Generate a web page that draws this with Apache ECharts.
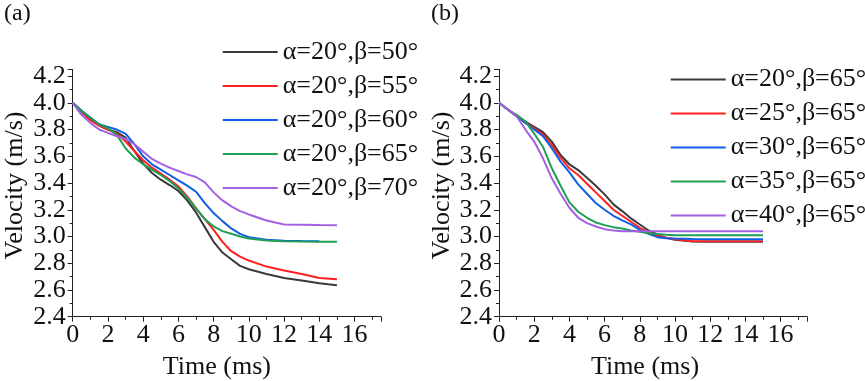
<!DOCTYPE html>
<html>
<head>
<meta charset="utf-8">
<script src="https://cdn.jsdelivr.net/npm/echarts@6/dist/echarts.min.js"></script>
<style>
  html, body { margin: 0; padding: 0; background: #fff; }
  #main { width: 865px; height: 381px; }
</style>
</head>
<body>
<div id="main"></div>
<script>
// sample times shared by all curves (ms)
var times = [0, 0.5, 1, 1.5, 2, 2.5, 3, 3.5, 4, 4.5, 5, 5.5, 6, 6.5, 7, 7.5, 8, 8.5, 9, 9.5, 10, 11, 12, 13, 14, 15];

// panel (a): alpha = 20, beta varies
var namesA = ['α=20°,β=50°', 'α=20°,β=55°', 'α=20°,β=60°', 'α=20°,β=65°', 'α=20°,β=70°'];
var a_b50 = [4.0, 3.94, 3.88, 3.83, 3.80, 3.78, 3.74, 3.64, 3.545, 3.475, 3.425, 3.385, 3.34, 3.27, 3.18, 3.07, 2.96, 2.88, 2.83, 2.78, 2.755, 2.72, 2.69, 2.67, 2.65, 2.635];
var a_b55 = [4.0, 3.93, 3.87, 3.83, 3.80, 3.77, 3.71, 3.64, 3.57, 3.515, 3.47, 3.425, 3.375, 3.30, 3.21, 3.13, 3.05, 2.96, 2.89, 2.85, 2.82, 2.775, 2.745, 2.72, 2.69, 2.68];
var a_b60 = [4.0, 3.94, 3.89, 3.84, 3.82, 3.80, 3.77, 3.69, 3.60, 3.54, 3.50, 3.46, 3.42, 3.38, 3.335, 3.25, 3.175, 3.115, 3.06, 3.02, 2.995, 2.975, 2.968, 2.966, 2.965, null];
var a_b65 = [4.0, 3.94, 3.89, 3.84, 3.81, 3.76, 3.66, 3.59, 3.54, 3.50, 3.46, 3.415, 3.36, 3.29, 3.21, 3.13, 3.075, 3.04, 3.02, 3.00, 2.985, 2.97, 2.965, 2.962, 2.96, 2.96];
var a_b70 = [4.0, 3.91, 3.85, 3.80, 3.775, 3.75, 3.73, 3.69, 3.635, 3.58, 3.545, 3.515, 3.49, 3.465, 3.445, 3.405, 3.33, 3.27, 3.225, 3.19, 3.165, 3.12, 3.09, 3.088, 3.086, 3.085];

// panel (b): beta = 65, alpha varies
var namesB = ['α=20°,β=65°', 'α=25°,β=65°', 'α=30°,β=65°', 'α=35°,β=65°', 'α=40°,β=65°'];
var b_a20 = [4.0, 3.95, 3.90, 3.86, 3.82, 3.78, 3.71, 3.61, 3.54, 3.497, 3.44, 3.38, 3.315, 3.24, 3.19, 3.135, 3.09, 3.045, 3.015, 2.99, 2.975, 2.962, 2.96, 2.96, 2.96, 2.96];
var b_a25 = [4.0, 3.95, 3.90, 3.85, 3.81, 3.765, 3.684, 3.59, 3.51, 3.46, 3.395, 3.33, 3.265, 3.20, 3.155, 3.11, 3.065, 3.03, 3.005, 2.99, 2.98, 2.965, 2.965, 2.965, 2.965, 2.965];
var b_a30 = [4.0, 3.95, 3.90, 3.85, 3.80, 3.75, 3.66, 3.56, 3.48, 3.39, 3.32, 3.25, 3.20, 3.155, 3.12, 3.09, 3.05, 3.02, 2.995, 2.987, 2.985, 2.982, 2.98, 2.98, 2.98, 2.98];
var b_a35 = [4.0, 3.95, 3.91, 3.86, 3.77, 3.67, 3.51, 3.38, 3.255, 3.185, 3.14, 3.105, 3.085, 3.07, 3.06, 3.045, 3.035, 3.025, 3.018, 3.013, 3.01, 3.01, 3.01, 3.01, 3.01, 3.01];
var b_a40 = [4.0, 3.95, 3.90, 3.80, 3.71, 3.585, 3.435, 3.32, 3.215, 3.14, 3.10, 3.075, 3.055, 3.045, 3.04, 3.04, 3.04, 3.04, 3.04, 3.04, 3.04, 3.04, 3.04, 3.04, 3.04, 3.04];

var colors = ['#3a3a3a', '#ff2020', '#0f5fe6', '#1f9e55', '#a460e2'];
var serif = '"Liberation Serif", "Times New Roman", serif';

function pairs(vals) {
  var out = [];
  for (var i = 0; i < times.length; i++) {
    if (vals[i] != null) out.push([times[i], vals[i]]);
  }
  return out;
}

function makeSeries(names, lists, idx) {
  var s = [];
  for (var i = 0; i < lists.length; i++) {
    s.push({
      type: 'line',
      name: names[i],
      xAxisIndex: idx,
      yAxisIndex: idx,
      data: pairs(lists[i]),
      symbol: 'none',
      smooth: false,
      color: colors[i],
      lineStyle: { width: 2, color: colors[i] }
    });
  }
  return s;
}

function xAxisFor(idx, pad) {
  return {
    type: 'value', gridIndex: idx, min: 0, max: 17.5, interval: 2,
    name: 'Time (ms)', nameLocation: 'middle', nameGap: 37,
    nameTextStyle: { fontFamily: serif, fontSize: 26, color: '#111', padding: [0, pad, 0, 0] },
    axisLine: { show: true, lineStyle: { color: '#222', width: 1 } },
    axisTick: { show: true, length: 5, lineStyle: { color: '#222' } },
    minorTick: { show: true, splitNumber: 2, length: 3, lineStyle: { color: '#222' } },
    splitLine: { show: false },
    axisLabel: { fontFamily: serif, fontSize: 26, color: '#111', margin: 5, showMinLabel: true, showMaxLabel: false }
  };
}

function yAxisFor(idx, gap) {
  return {
    type: 'value', gridIndex: idx, min: 2.4, max: 4.25, interval: 0.2,
    name: 'Velocity (m/s)', nameLocation: 'middle', nameGap: gap,
    nameTextStyle: { fontFamily: serif, fontSize: 26, color: '#111', padding: [0, 0, 0, 15] },
    axisLine: { show: true, lineStyle: { color: '#222', width: 1 } },
    axisTick: { show: true, length: 5, lineStyle: { color: '#222' } },
    minorTick: { show: true, splitNumber: 2, length: 3, lineStyle: { color: '#222' } },
    splitLine: { show: false },
    axisLabel: {
      fontFamily: serif, fontSize: 26, color: '#111', margin: 7, showMinLabel: true, showMaxLabel: false,
      formatter: function (v) { return v.toFixed(1); }
    }
  };
}

function legendFor(names, left, top) {
  var items = [];
  for (var i = 0; i < names.length; i++) {
    items.push({ name: names[i], itemStyle: { color: colors[i] } });
  }
  return {
    data: items, orient: 'vertical', left: left, top: top, padding: 0,
    icon: 'rect', itemWidth: 55, itemHeight: 2, itemGap: 8,
    textStyle: { fontFamily: serif, fontSize: 26, color: '#111', lineHeight: 25 },
    selectedMode: false
  };
}

var chart = echarts.init(document.getElementById('main'), null, { renderer: 'canvas' });

var option = {
  backgroundColor: '#fff',
  animation: false,
  grid: [
    { left: 72.7, top: 69.4, width: 308.3, height: 247.3, outerBoundsMode: 'none', containLabel: false },
    { left: 499, top: 69.4, width: 308, height: 247.3, outerBoundsMode: 'none', containLabel: false }
  ],
  xAxis: [xAxisFor(0, 20), xAxisFor(1, 16)],
  yAxis: [yAxisFor(0, 45), yAxisFor(1, 42)],
  legend: [legendFor(namesA, 222.7, 39), legendFor(namesB, 670.7, 66.5)],
  graphic: [
    { type: 'text', left: 4, top: 2, style: { text: '(a)', font: '24px "Liberation Serif", "Times New Roman", serif', fill: '#111' } },
    { type: 'text', left: 431, top: 2, style: { text: '(b)', font: '24px "Liberation Serif", "Times New Roman", serif', fill: '#111' } }
  ],
  series: makeSeries(namesA, [a_b50, a_b55, a_b60, a_b65, a_b70], 0)
    .concat(makeSeries(namesB, [b_a20, b_a25, b_a30, b_a35, b_a40], 1))
};

chart.setOption(option);
</script>
</body>
</html>
